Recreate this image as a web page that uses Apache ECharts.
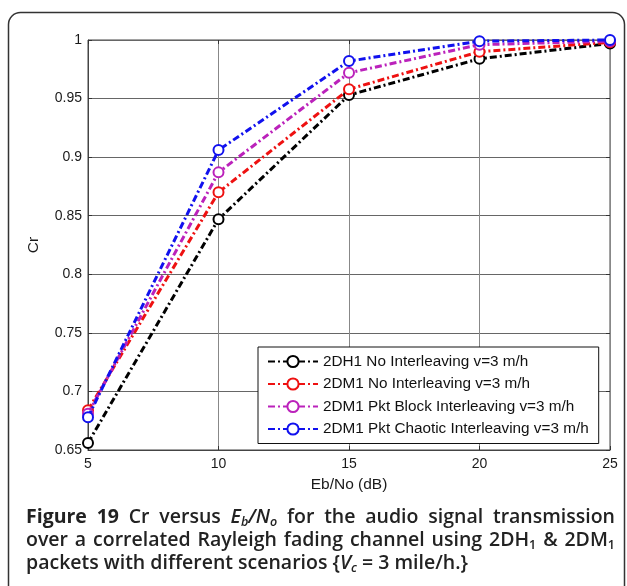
<!DOCTYPE html>
<html>
<head>
<meta charset="utf-8">
<script src="https://cdn.jsdelivr.net/npm/echarts@6/dist/echarts.min.js"></script>
<style>
html,body{margin:0;padding:0;background:#fff;}
#chart{width:627px;height:586px;}
</style>
</head>
<body>
<div id="chart"></div>
<script>
var ebno = [5, 10, 15, 20, 25];
var seriesNames = [
  '2DH1 No Interleaving v=3 m/h',
  '2DM1 No Interleaving v=3 m/h',
  '2DM1 Pkt Block Interleaving v=3 m/h',
  '2DM1 Pkt Chaotic Interleaving v=3 m/h'
];
var crBlack   = [0.656, 0.847, 0.953, 0.984, 0.997];
var crRed     = [0.684, 0.870, 0.958, 0.990, 0.998];
var crMagenta = [0.681, 0.887, 0.972, 0.996, 0.999];
var crBlue    = [0.678, 0.906, 0.982, 0.999, 1.000];
var colors = ['#000000', '#ee1111', '#bb22bb', '#1111ee'];
var xTicks = {min: 5, max: 25, interval: 5};
var yTicks = {min: 0.65, max: 1, interval: 0.05};

// caption tokens: [style, text]; ' ' tokens become justified spaces
var captionLines = [
  [['b','Figure'],['sp',' '],['b','19'],['sp',' '],['n','Cr'],['sp',' '],['n','versus'],['sp',' '],['i','E'],['si','b'],['i','/N'],['si','o'],['sp',' '],['n','for'],['sp',' '],['n','the'],['sp',' '],['n','audio'],['sp',' '],['n','signal'],['sp',' '],['n','transmission']],
  [['n','over'],['sp',' '],['n','a'],['sp',' '],['n','correlated'],['sp',' '],['n','Rayleigh'],['sp',' '],['n','fading'],['sp',' '],['n','channel'],['sp',' '],['n','using'],['sp',' '],['n','2DH'],['s','1'],['sp',' '],['n','&'],['sp',' '],['n','2DM'],['s','1']],
  [['n','packets with different scenarios {'],['i','V'],['si','c'],['n',' = 3 mile/h}.']]
];
var justify = [true, true, false];

var allData = [crBlack, crRed, crMagenta, crBlue];
var series = allData.map(function (vals, i) {
  return {
    name: seriesNames[i],
    type: 'line',
    data: ebno.map(function (x, j) { return [x, vals[j]]; }),
    symbol: 'emptyCircle',
    symbolSize: 10,
    clip: false,
    z: 3 + i,
    lineStyle: {color: colors[i], width: 3, type: [7, 3, 2, 3]},
    itemStyle: {color: colors[i], borderColor: colors[i], borderWidth: 2.6}
  };
});

var CAP = 19.5, SUB = 12.5;
var capFonts = {
  b: 'bold ' + CAP + 'px "Open Sans"',
  n: '600 ' + CAP + 'px "Open Sans"',
  i: 'italic 600 ' + CAP + 'px "Open Sans"',
  s: '600 ' + SUB + 'px "Open Sans"',
  si: 'italic 600 ' + SUB + 'px "Open Sans"',
  sp: '600 ' + CAP + 'px "Open Sans"'
};
var capLeft = 26, capRight = 615;
var ctx = document.createElement('canvas').getContext('2d');
function tw(style, text) { ctx.font = capFonts[style]; return ctx.measureText(text).width; }

var rich = {
  b: {fontFamily: 'Open Sans', fontWeight: 'bold', fontSize: CAP, lineHeight: 23, fill: '#222'},
  n: {fontFamily: 'Open Sans', fontWeight: 600, fontSize: CAP, lineHeight: 23, fill: '#222'},
  i: {fontFamily: 'Open Sans', fontWeight: 600, fontStyle: 'italic', fontSize: CAP, lineHeight: 23, fill: '#222'},
  s: {fontFamily: 'Open Sans', fontWeight: 600, fontSize: SUB, lineHeight: 16, verticalAlign: 'bottom', fill: '#222'},
  si: {fontFamily: 'Open Sans', fontWeight: 600, fontStyle: 'italic', fontSize: SUB, lineHeight: 16, verticalAlign: 'bottom', fill: '#222'}
};
var capText = captionLines.map(function (tokens, li) {
  var fixed = 0, nsp = 0;
  tokens.forEach(function (t) { if (t[0] === 'sp') nsp++; else fixed += tw(t[0], t[1]); });
  var spName = 'sp' + li;
  var spW = justify[li] && nsp ? (capRight - capLeft - fixed) / nsp : tw('sp', ' ');
  rich[spName] = {fontFamily: 'Open Sans', fontWeight: 600, fontSize: CAP, lineHeight: 23, width: spW, fill: '#222'};
  return tokens.map(function (t) {
    var st = t[0] === 'sp' ? spName : t[0];
    return '{' + st + '|' + t[1] + '}';
  }).join('');
}).join('\n');

var FF = "'Liberation Sans', Arial, sans-serif";
var chart = echarts.init(document.getElementById('chart'), null, {renderer: 'canvas'});
var labelFont = {color: '#1a1a1a', fontSize: 14, fontFamily: FF};
var nameFont = {color: '#1a1a1a', fontSize: 15.5, fontFamily: FF};
chart.setOption({
  animation: false,
  backgroundColor: '#fff',
  grid: {left: 88, right: 17, top: 40, bottom: 136, show: true, borderColor: '#444', borderWidth: 1, backgroundColor: 'transparent'},
  legend: {
    orient: 'vertical',
    left: 258, top: 347,
    padding: [7, 10, 7, 9],
    itemWidth: 50, itemHeight: 14, itemGap: 7.5,
    backgroundColor: '#fff', borderColor: '#111', borderWidth: 1,
    textStyle: {color: '#111', fontSize: 15.3, fontFamily: FF},
    data: seriesNames
  },
  xAxis: [{
    type: 'value', min: xTicks.min, max: xTicks.max, interval: xTicks.interval,
    name: 'Eb/No (dB)', nameLocation: 'middle', nameGap: 27,
    nameTextStyle: nameFont,
    axisLine: {show: true, lineStyle: {color: '#444', width: 1}},
    axisTick: {show: true, inside: true, length: 4, lineStyle: {color: '#333'}},
    axisLabel: Object.assign({margin: 7}, labelFont),
    splitLine: {show: true, lineStyle: {color: '#888', width: 1}}
  }, {
    type: 'value', position: 'top', min: xTicks.min, max: xTicks.max, interval: xTicks.interval,
    axisLine: {show: false}, axisLabel: {show: false}, splitLine: {show: false},
    axisTick: {show: true, inside: true, length: 4, lineStyle: {color: '#333'}}
  }],
  yAxis: [{
    type: 'value', min: yTicks.min, max: yTicks.max, interval: yTicks.interval,
    name: 'Cr', nameLocation: 'middle', nameGap: 46, nameRotate: 90,
    nameTextStyle: nameFont,
    axisLine: {show: true, lineStyle: {color: '#444', width: 1}},
    axisTick: {show: true, inside: true, length: 4, lineStyle: {color: '#333'}},
    axisLabel: Object.assign({margin: 6, formatter: function (v) { return String(+v.toFixed(2)); }}, labelFont),
    splitLine: {show: true, lineStyle: {color: '#666', width: 1}}
  }, {
    type: 'value', position: 'right', min: yTicks.min, max: yTicks.max, interval: yTicks.interval,
    axisLine: {show: false}, axisLabel: {show: false}, splitLine: {show: false},
    axisTick: {show: true, inside: true, length: 4, lineStyle: {color: '#333'}}
  }],
  series: series,
  graphic: [
    {
      type: 'rect', silent: true, z: -1,
      shape: {x: 8.5, y: 12.5, width: 616, height: 620, r: 12},
      style: {fill: 'none', stroke: '#333', lineWidth: 1.5}
    },
    {
      type: 'text', left: capLeft, top: 506, silent: true,
      style: {
        text: capText,
        fill: '#222',
        font: '600 ' + CAP + 'px "Open Sans", sans-serif',
        lineHeight: 23,
        rich: rich
      }
    }
  ]
});
</script>
</body>
</html>
